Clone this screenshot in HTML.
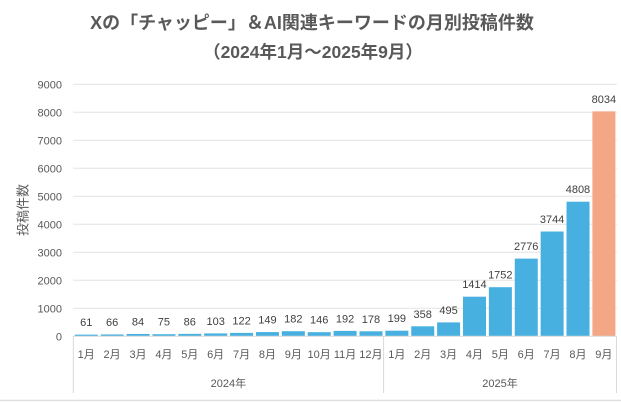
<!DOCTYPE html>
<html>
<head>
<meta charset="utf-8">
<style>
html,body{margin:0;padding:0;background:#fff;}
body{width:621px;height:402px;overflow:hidden;}
svg{display:block;}
text{font-family:"Liberation Sans","Noto Sans CJK JP",sans-serif;}
</style>
</head>
<body>
<svg width="621" height="402" viewBox="0 0 621 402" xmlns="http://www.w3.org/2000/svg">
<rect x="0" y="0" width="621" height="402" fill="#ffffff"/>
<!-- title -->
<text x="312" y="29" text-anchor="middle" font-size="18" font-weight="bold" fill="#595959">Xの「チャッピー」＆AI関連キーワードの月別投稿件数</text>
<text x="313" y="58" text-anchor="middle" font-size="17.5" font-weight="bold" fill="#595959">（2024年1月～2025年9月）</text>

<!-- gridlines -->
<g stroke="#e3e3e3" stroke-width="1">
<line x1="73.3" y1="84.3" x2="616.8" y2="84.3"/>
<line x1="73.3" y1="112.3" x2="616.8" y2="112.3"/>
<line x1="73.3" y1="140.3" x2="616.8" y2="140.3"/>
<line x1="73.3" y1="168.3" x2="616.8" y2="168.3"/>
<line x1="73.3" y1="196.3" x2="616.8" y2="196.3"/>
<line x1="73.3" y1="224.3" x2="616.8" y2="224.3"/>
<line x1="73.3" y1="252.3" x2="616.8" y2="252.3"/>
<line x1="73.3" y1="280.3" x2="616.8" y2="280.3"/>
<line x1="73.3" y1="308.3" x2="616.8" y2="308.3"/>
</g>

<!-- y tick labels -->
<g font-size="11" fill="#595959" text-anchor="end">
<text x="62" y="88.3">9000</text>
<text x="62" y="116.3">8000</text>
<text x="62" y="144.3">7000</text>
<text x="62" y="172.3">6000</text>
<text x="62" y="200.3">5000</text>
<text x="62" y="228.3">4000</text>
<text x="62" y="256.3">3000</text>
<text x="62" y="284.3">2000</text>
<text x="62" y="312.3">1000</text>
<text x="62" y="340.3">0</text>
</g>

<!-- y axis title -->
<text x="0" y="0" font-size="13" fill="#595959" text-anchor="middle" transform="translate(27.5,210) rotate(-90)">投稿件数</text>

<!-- bars -->
<g fill="#47b0e0">
<rect x="74.8" y="334.6" width="23" height="1.7"/>
<rect x="100.7" y="334.45" width="23" height="1.85"/>
<rect x="126.56" y="333.95" width="23" height="2.35"/>
<rect x="152.44" y="334.2" width="23" height="2.1"/>
<rect x="178.32" y="333.9" width="23" height="2.4"/>
<rect x="204.2" y="333.4" width="23" height="2.9"/>
<rect x="230.08" y="332.9" width="23" height="3.4"/>
<rect x="255.96" y="332.1" width="23" height="4.2"/>
<rect x="281.84" y="331.2" width="23" height="5.1"/>
<rect x="307.72" y="332.2" width="23" height="4.1"/>
<rect x="333.6" y="330.9" width="23" height="5.4"/>
<rect x="359.48" y="331.3" width="23" height="5"/>
<rect x="385.36" y="330.7" width="23" height="5.6"/>
<rect x="411.24" y="326.3" width="23" height="10"/>
<rect x="437.12" y="322.4" width="23" height="13.9"/>
<rect x="463" y="296.7" width="23" height="39.6"/>
<rect x="488.88" y="287.2" width="23" height="49.1"/>
<rect x="514.76" y="258.6" width="23" height="77.7"/>
<rect x="540.64" y="231.5" width="23" height="104.8"/>
<rect x="566.52" y="201.7" width="23" height="134.6"/>
</g>
<rect x="592.4" y="111.35" width="23" height="224.95" fill="#f3a784"/>

<!-- value labels -->
<g font-size="11" fill="#404040" text-anchor="middle">
<text x="86.24" y="326.1">61</text>
<text x="112.12" y="325.95">66</text>
<text x="138" y="325.45">84</text>
<text x="163.88" y="325.7">75</text>
<text x="189.76" y="325.4">86</text>
<text x="215.64" y="324.9">103</text>
<text x="241.52" y="324.4">122</text>
<text x="267.4" y="323.6">149</text>
<text x="293.28" y="322.7">182</text>
<text x="319.16" y="323.7">146</text>
<text x="345.04" y="322.4">192</text>
<text x="370.92" y="322.8">178</text>
<text x="396.8" y="322.2">199</text>
<text x="422.68" y="317.8">358</text>
<text x="448.56" y="313.9">495</text>
<text x="474.44" y="288.2">1414</text>
<text x="500.32" y="278.7">1752</text>
<text x="526.2" y="250.1">2776</text>
<text x="552.08" y="223">3744</text>
<text x="577.96" y="193.2">4808</text>
<text x="603.84" y="102.85">8034</text>
</g>

<!-- category axis lines -->
<g stroke="#d9d9d9" stroke-width="1">
<line x1="73.3" y1="336.3" x2="616.8" y2="336.3"/>
<line x1="73.3" y1="336" x2="73.3" y2="393"/>
<line x1="383.6" y1="336" x2="383.6" y2="393"/>
<line x1="616.5" y1="336" x2="616.5" y2="393"/>
</g>

<!-- month labels -->
<g font-size="11" fill="#595959" text-anchor="middle">
<text x="86.24" y="358">1月</text>
<text x="112.12" y="358">2月</text>
<text x="138" y="358">3月</text>
<text x="163.88" y="358">4月</text>
<text x="189.76" y="358">5月</text>
<text x="215.64" y="358">6月</text>
<text x="241.52" y="358">7月</text>
<text x="267.4" y="358">8月</text>
<text x="293.28" y="358">9月</text>
<text x="319.16" y="358">10月</text>
<text x="345.04" y="358">11月</text>
<text x="370.92" y="358">12月</text>
<text x="396.8" y="358">1月</text>
<text x="422.68" y="358">2月</text>
<text x="448.56" y="358">3月</text>
<text x="474.44" y="358">4月</text>
<text x="500.32" y="358">5月</text>
<text x="526.2" y="358">6月</text>
<text x="552.08" y="358">7月</text>
<text x="577.96" y="358">8月</text>
<text x="603.84" y="358">9月</text>
</g>

<!-- year labels -->
<g font-size="11" fill="#595959" text-anchor="middle">
<text x="228.4" y="387">2024年</text>
<text x="500" y="387">2025年</text>
</g>

<!-- bottom border -->
<line x1="0" y1="400.5" x2="621" y2="400.5" stroke="#e0e0e0" stroke-width="1.5"/>
</svg>
</body>
</html>
